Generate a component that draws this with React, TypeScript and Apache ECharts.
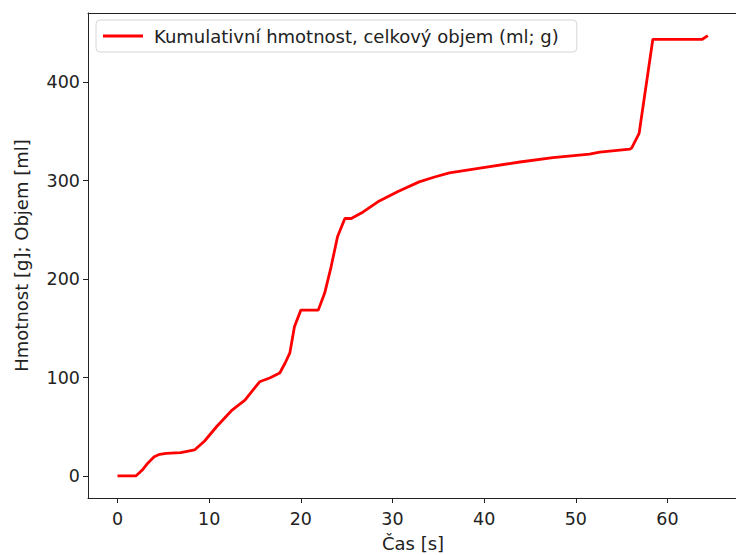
import React, { useEffect, useRef } from "react";
import * as echarts from "echarts";

const timeS = [0, 2.0, 2.7, 3.3, 4.0, 4.6, 5.3, 6.9, 8.4, 9.5, 10.8, 12.5, 13.9, 15.5, 16.6, 17.7, 18.3, 18.8, 19.3, 20.0, 21.9, 22.6, 23.3, 24.0, 24.8, 25.5, 26.8, 28.4, 30.6, 32.9, 34.5, 36.2, 39.9, 43.9, 47.5, 51.5, 52.6, 55.9, 56.1, 56.9, 58.4, 63.8, 64.4];
const massG = [0, 0, 6, 13, 19.6, 22, 23, 23.7, 26.4, 35.5, 50, 67, 77, 95.7, 99.5, 104.6, 115, 125, 151.6, 168.5, 168.5, 185.8, 212.5, 243, 261.6, 261.6, 268.3, 278.5, 289, 298.8, 303.5, 308, 313.4, 319, 323.5, 327, 329, 332, 333.3, 348, 443.7, 443.7, 447.5];

const xTicks = [0, 10, 20, 30, 40, 50, 60];
const yTicks = [0, 100, 200, 300, 400];

const seriesName = "Kumulativní hmotnost, celkový objem (ml; g)";
const xName = "Čas [s]";
const yName = "Hmotnost [g]; Objem [ml]";

export default function App() {
  const ref = useRef<HTMLDivElement>(null);
  useEffect(() => {
    if (!ref.current) return;
    const chart = echarts.init(ref.current, undefined, { renderer: "svg" });
    const font = "DejaVu Sans";
    const data = timeS.map((t, i) => [t, massG[i]]);
    const axisColor = "#222";
    chart.setOption({
      animation: false,
      backgroundColor: "#ffffff",
      textStyle: { fontFamily: font },
      grid: {
        left: 88,
        top: 13,
        width: 650,
        height: 485,
        show: false,
        containLabel: false,
        outerBoundsMode: "none",
      },
      legend: {
        left: 96,
        top: 20,
        data: [{ name: seriesName, icon: "rect" }],
        itemWidth: 40,
        itemHeight: 3,
        itemGap: 10,
        padding: [7, 18, 7, 7],
        borderColor: "#d6d6d6",
        borderWidth: 1,
        borderRadius: 4,
        backgroundColor: "rgba(255,255,255,0.8)",
        textStyle: { fontFamily: font, fontSize: 18, color: "#222", padding: [0, 0, 0, 6] },
      },
      xAxis: [
        {
          type: "value",
          min: -3.22,
          max: 67.69,
          name: xName,
          nameLocation: "middle",
          nameGap: 36,
          nameTextStyle: { fontFamily: font, fontSize: 18, color: "#222" },
          axisLine: { show: true, onZero: false, lineStyle: { color: axisColor, width: 1 } },
          axisTick: { show: true, length: 5, customValues: xTicks, lineStyle: { color: axisColor } },
          axisLabel: { customValues: xTicks, fontFamily: font, fontSize: 17.5, color: "#222", margin: 12 },
          splitLine: { show: false },
        },
        {
          type: "value",
          position: "top",
          min: -3.22,
          max: 67.69,
          axisLine: { show: true, onZero: false, lineStyle: { color: axisColor, width: 1 } },
          axisTick: { show: false },
          axisLabel: { show: false },
          splitLine: { show: false },
        },
      ],
      yAxis: {
        type: "value",
        min: -22.4,
        max: 470.4,
        name: yName,
        nameLocation: "middle",
        nameGap: 58,
        nameTextStyle: { fontFamily: font, fontSize: 18, color: "#222" },
        axisLine: { show: true, onZero: false, lineStyle: { color: axisColor, width: 1 } },
        axisTick: { show: true, length: 5, customValues: yTicks, lineStyle: { color: axisColor } },
        axisLabel: { customValues: yTicks, fontFamily: font, fontSize: 17.5, color: "#222", margin: 8 },
        splitLine: { show: false },
      },
      series: [
        {
          name: seriesName,
          type: "line",
          xAxisIndex: 0,
          data,
          symbol: "none",
          lineStyle: { color: "#ff0000", width: 2.8 },
          itemStyle: { color: "#ff0000" },
        },
      ],
    });
    return () => chart.dispose();
  }, []);
  return (
    <div
      ref={ref}
      style={{ position: "absolute", left: 0, top: 0, width: 736, height: 555 }}
    />
  );
}
